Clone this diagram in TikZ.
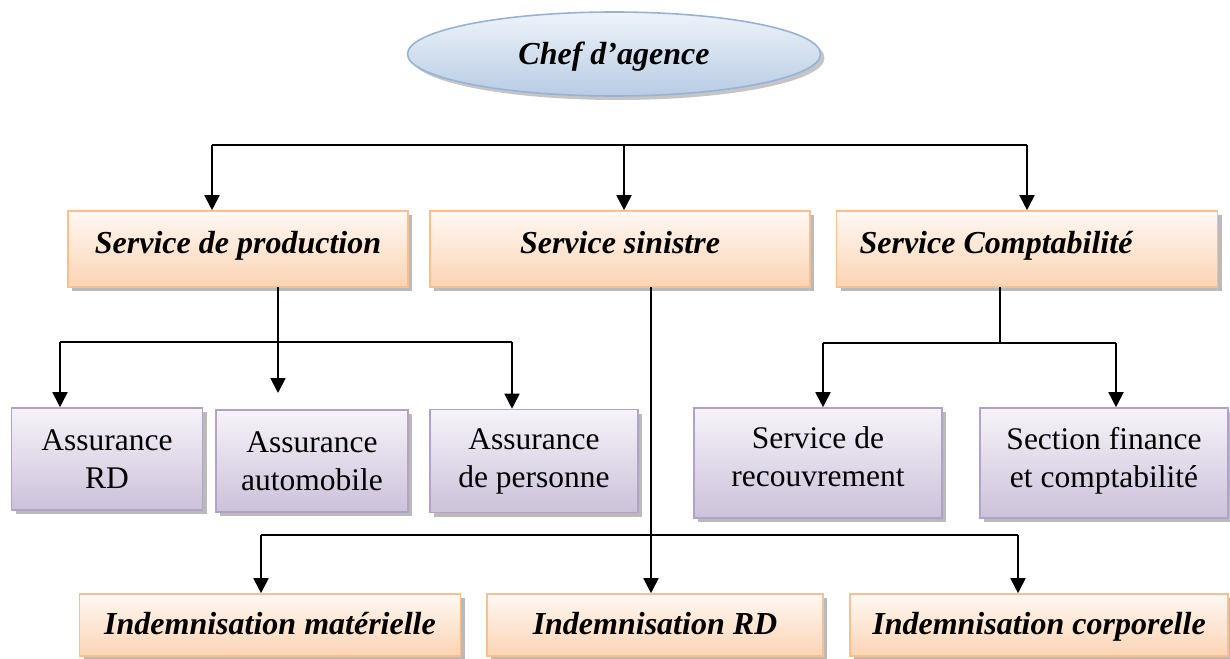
\documentclass[tikz,border=0pt]{standalone}
\usepackage{fontspec}
\setmainfont{Liberation Serif}
\usetikzlibrary{shapes.geometric,shadows,arrows.meta}

\definecolor{chiefTop}{HTML}{EEF3F9}
\definecolor{chiefBottom}{HTML}{B8CCE4}
\definecolor{chiefBorder}{HTML}{95B3D7}
\definecolor{peachTop}{HTML}{FFF8F2}
\definecolor{peachBottom}{HTML}{FBD4B4}
\definecolor{peachBorder}{HTML}{F9BF8F}
\definecolor{lilacTop}{HTML}{F6F3F9}
\definecolor{lilacBottom}{HTML}{CCC1DA}
\definecolor{lilacBorder}{HTML}{B3A2C7}

\begin{document}
\begin{tikzpicture}
    [ x=1pt, y=-1pt,
      chief/.style={ellipse, draw=chiefBorder, line width=1.6pt, top color=chiefTop, bottom color=chiefBottom,
                    minimum width=413pt, minimum height=84pt, inner sep=0pt, text height=22pt, text depth=0pt,
                    drop shadow={shadow xshift=4pt, shadow yshift=-4pt, fill=black!45, opacity=0.5},
                    font=\fontsize{32}{38}\selectfont\bfseries\itshape},
      service/.style={rectangle, draw=peachBorder, line width=1.6pt, top color=peachTop, bottom color=peachBottom,
                    inner sep=0pt, text height=22pt, text depth=14pt,
                    drop shadow={shadow xshift=4pt, shadow yshift=-4pt, fill=black!45, opacity=0.6},
                    font=\fontsize{32}{38}\selectfont\bfseries\itshape},
      indemn/.style={service, minimum height=62pt, text depth=4pt},
      section/.style={rectangle, draw=lilacBorder, line width=1.6pt, top color=lilacTop, bottom color=lilacBottom,
                    inner sep=0pt, align=center,
                    drop shadow={shadow xshift=4pt, shadow yshift=-4pt, fill=black!45, opacity=0.6},
                    font=\fontsize{31.5}{38}\selectfont},
      wire/.style={black, line width=1.8pt},
      link/.style={wire, -{Triangle[width=15pt,length=15pt]}}]

  \useasboundingbox (0,0) rectangle (1230,658);

%%%%%%%%%%%%%%%%%%%%%%%%%%%%%%%%%%%%%%%%%%%%%%%%%%%%%%%%%%%%%%%%%%%%%%%%%%%%%%%%%%%%%%%%%%%%%%%%%%%%%%%%%%
%draw boxes
	  \node[chief] (chef) at (614,54) {Chef d’agence};

	  \node[service, minimum width=340pt, minimum height=76pt] (prod) at (238,249) {Service de production};
	  \node[service, minimum width=380pt, minimum height=76pt] (sinistre) at (620,249) {Service sinistre};
	  \node[service, minimum width=381pt, minimum height=76pt] (compta) at (1027,249) {Service Comptabilité\kern62pt};

	  \node[section, minimum width=191pt, minimum height=102pt] (assRD) at (107,459) {Assurance\\RD};
	  \node[section, minimum width=192pt, minimum height=102pt] (assAuto) at (312,461) {Assurance\\automobile};
	  \node[section, minimum width=208pt, minimum height=103pt] (assPers) at (534,461) {Assurance\\de personne};
	  \node[section, minimum width=248pt, minimum height=110pt, text depth=12pt] (recouv) at (818,463) {Service de\\recouvrement};
	  \node[section, minimum width=248pt, minimum height=110pt, text depth=12pt] (finance) at (1104,463) {Section finance\\et comptabilité};

	  \node[indemn, minimum width=381pt] (indMat) at (270,625) {Indemnisation matérielle};
	  \node[indemn, minimum width=336pt] (indRD) at (655,625) {Indemnisation RD};
	  \node[indemn, minimum width=378pt] (indCorp) at (1039,625) {Indemnisation corporelle};

%%%%%%%%%%%%%%%%%%%%%%%%%%%%%%%%%%%%%%%%%%%%%%%%%%%%%%%%%%%%%%%%%%%%%%%%%%%%%%%%%%%%%%%%%%%%%%%%%%%%%%%%%%
%draw connectors
	  % chef -> services
	  \coordinate (topL) at (212,145);
	  \coordinate (topM) at (624,145);
	  \coordinate (topR) at (1027,145);
	  \draw[wire] (topL) -- (topR);
	  \draw[link] (topL) -- (topL |- prod.north);
	  \draw[link] (topM) -- (topM |- sinistre.north);
	  \draw[link] (topR) -- (topR |- compta.north);

	  % production -> assurances
	  \coordinate (prodOut) at (278,287);
	  \coordinate (prodL) at (60,342);
	  \coordinate (prodM) at (278,342);
	  \coordinate (prodR) at (512,342);
	  \coordinate (prodEnd) at (278,393);
	  \draw[wire] (prodOut) -- (prodM);
	  \draw[wire] (prodL) -- (prodR);
	  \draw[link] (prodL) -- (prodL |- assRD.north);
	  \draw[link] (prodM) -- (prodEnd);
	  \draw[link] (prodR) -- (prodR |- assPers.north);

	  % comptabilite -> sections
	  \coordinate (comptaOut) at (1000,287);
	  \coordinate (comptaL) at (823,343);
	  \coordinate (comptaM) at (1000,343);
	  \coordinate (comptaR) at (1116,343);
	  \draw[wire] (comptaOut) -- (comptaM);
	  \draw[wire] (comptaL) -- (comptaR);
	  \draw[link] (comptaL) -- (comptaL |- recouv.north);
	  \draw[link] (comptaR) -- (comptaR |- finance.north);

	  % sinistre -> indemnisations
	  \coordinate (sinOut) at (651,287);
	  \coordinate (sinL) at (261,535);
	  \coordinate (sinR) at (1018,535);
	  \draw[link] (sinOut) -- (sinOut |- indRD.north);
	  \draw[wire] (sinL) -- (sinR);
	  \draw[link] (sinL) -- (sinL |- indMat.north);
	  \draw[link] (sinR) -- (sinR |- indCorp.north);

\end{tikzpicture}
\end{document}
